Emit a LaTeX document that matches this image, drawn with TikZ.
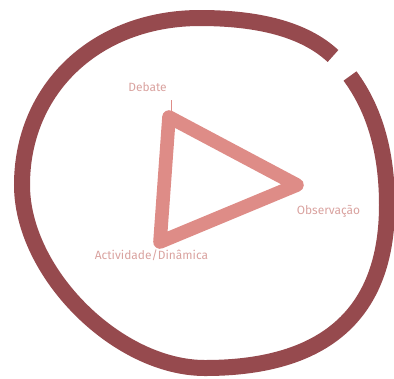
\documentclass[tikz,border=0pt]{standalone}
\usepackage{fontspec}
\setmainfont{Fira Sans}
\usepackage{xcolor}
\definecolor{ringred}{HTML}{964A4E}
\definecolor{trisalmon}{HTML}{DE8C87}
\definecolor{labelpink}{HTML}{D9A29F}

\begin{document}
\begin{tikzpicture}[x=0.025cm, y=-0.025cm,
	    ring/.style={ringred, line width=0.4cm, line cap=butt},
	    tri/.style={trisalmon, line width=0.34cm, line join=round},
	    lbl/.style={labelpink, font=\fontsize{8.5}{10}\selectfont, inner sep=0pt, anchor=base}
	  ]
	  \useasboundingbox (0,0) rectangle (394,378);

	  % hand drawn ring, open at the top right
	  \draw[ring] (350,76) .. controls (374.3,108.9) and (387,151.5) .. (387,205)
	    .. controls (387,320.7) and (316.9,368) .. (205,368)
	    .. controls (117.2,368) and (22,272.8) .. (22,185)
	    .. controls (22,88.1) and (96.8,18) .. (200,18)
	    .. controls (260,18) and (305,30) .. (333,56);

	  % triangle corners
	  \coordinate (vDeb) at (169,117);
	  \coordinate (vObs) at (297,185);
	  \coordinate (vAct) at (160,242);
	  \draw[tri] (vDeb) -- (vObs) -- (vAct) -- cycle;
	  \draw[trisalmon, line width=0.6pt] (vDeb) ++(2.5,-17) -- ++(0,14);

	  % labels
	  \node[lbl] (deb) at (147.5,91) {Debate};
	  \node[lbl] (obs) at (328.5,214) {Observação};
	  \node[lbl] (act) at (151.5,259) {Actividade/Dinâmica};
	\end{tikzpicture}
\end{document}
